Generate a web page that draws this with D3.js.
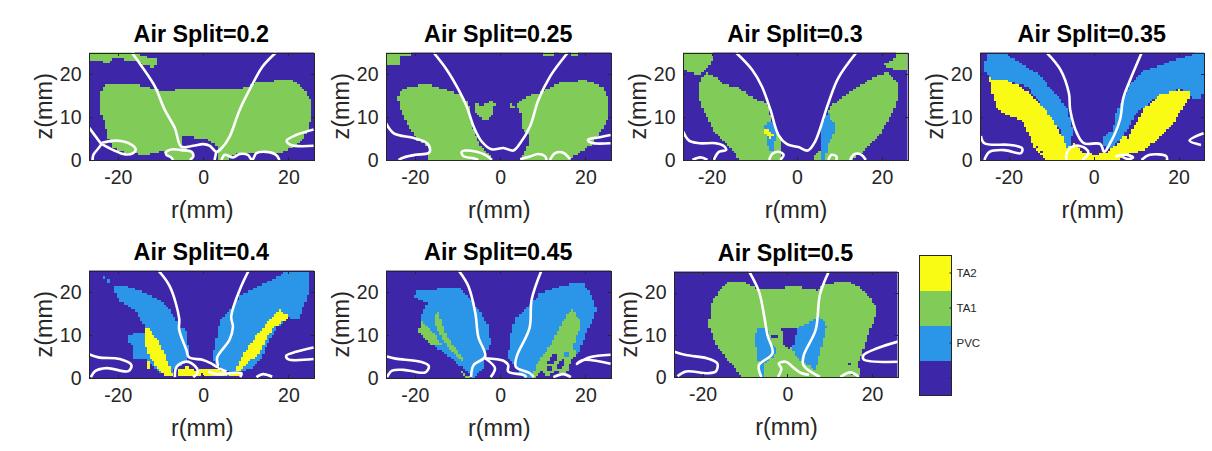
<!DOCTYPE html>
<html><head><meta charset="utf-8">
<script src="https://cdn.jsdelivr.net/npm/d3@7"></script>
<style>html,body{margin:0;background:#fff}svg{display:block}text{font-family:"Liberation Sans",Arial,sans-serif}</style>
</head><body><svg id="c" width="1212" height="451"></svg>
<script>
// ---------- categories and axis ticks ----------
const categories = ["", "PVC", "TA1", "TA2"];
const categoryColors = ["#3e26a8", "#2b95e8", "#81cc59", "#f9fb15"];
const rTicks = [-20, 0, 20];
const zTicks = [0, 10, 20];
const airSplits = [0.2, 0.25, 0.3, 0.35, 0.4, 0.45, 0.5];

// ---------- regions: [category index, outline as [r mm, z mm]] ----------
const regions20 = [
 [2,[[-24.3,13.2],[-24.1,15.2],[-23.4,17.1],[-22.2,17.7],[-15.6,17.5],[-12.5,16.7],[-10.1,16.2],[-7,16.2],[0,16.5],[3.9,16.5],[9.3,16.7],[12.5,17.9],[17.1,18.5],[21,18.5],[23.4,16.7],[25.3,14],[25.3,10.1],[24.9,7],[22.6,3.9],[18.7,1.9],[17.1,1.6],[12.5,1.6],[9.3,1.6],[7,1.2],[6.2,0],[3.1,0],[3.5,1.9],[3.1,3.5],[.8,4.8],[-2.3,5.3],[-5.1,5.3],[-5.1,3.5],[-2.7,1.9],[-2.7,0],[-7,0],[-9.3,2.2],[-13.2,1.2],[-17.9,1.6],[-21,2.7],[-22.2,5.1],[-23,8.5],[-24.1,11.3]]],
 [2,[[-26.9,25.2],[-16.4,25.2],[-14.8,24.5],[-10.9,23.3],[-10.7,22.5],[-11.7,21.5],[-13.6,22.1],[-16.4,23.2],[-21.4,23.6],[-21.8,22.4],[-23,22.8],[-26.9,23]]]
];
const contours20 = [
 [[-16.7,25],[-14.4,21.8],[-11.3,17.1],[-9,11.7],[-6.6,7.4],[-5.1,3.1],[-2.3,3.3],[0,3.7],[1.6,3.3],[3.1,1.9],[4.3,2.7],[6.2,5.4],[8.6,11.7],[11.3,17.1],[14,21.8],[17.1,25]],
 [[3.1,1.9],[2.7,0]],
 [[-3.1,0],[-2.3,.8],[-2.7,1.9],[-5.1,2.3],[-7,2.5],[-8.6,1.9],[-8.6,1.2],[-7.6,.7],[-7,0]],
 [[4.3,0],[5.1,1.2],[7,.6],[8.6,1.4],[10.5,1.2],[11.5,0],[12.5,1.6],[14.8,1.9],[17.1,1.2],[17.9,0]],
 [[-27,7.9],[-24.3,4.3],[-23.9,3.7],[-25.7,1.2],[-25.9,0]],
 [[-23.7,4],[-20.2,4.5],[-17,3.7],[-15.8,2.5],[-16.4,1.6],[-18.3,1.3],[-21,2.3],[-23.7,3.7]],
 [[25.9,7.1],[21.8,5.8],[19.6,4.5],[20.6,3.5],[25.9,3.3]]
];

const regions25 = [
 [2,[[-24,14.4],[-23.4,15.9],[-21,17.2],[-16.4,17.5],[-12.9,16.3],[-9.3,15.2],[-7.4,13.2],[-7,9.3],[-5.5,4.7],[-3.1,1.6],[-1.6,0],[-17.1,0],[-16.4,2.7],[-19.5,4.7],[-21.8,8.5],[-23.4,11.7]]],
 [2,[[4.7,0],[6.2,2.7],[7,5.1],[4.8,7.8],[5.1,10.1],[3.9,12.6],[2.3,13],[2.5,12.2],[3.4,12.4],[6.2,14.8],[9.3,15.7],[14.8,18.3],[20.2,18.5],[24.1,17.1],[25.5,14],[25.5,10.1],[23.4,6.2],[21.4,3.5],[18.3,1.6],[16.4,0]]],
 [2,[[-6.1,13.2],[-3.9,12.8],[-2.5,13.6],[-1.2,13.4],[-1.4,11.7],[-1.9,10.1],[-3.5,9.3],[-5.5,10.5],[-6.1,12]]],
 [2,[[-26.9,25.2],[-21,25.2],[-21,24.2],[-23.4,24.1],[-23.8,22.1],[-26.9,22.1]]],
 [2,[[10.1,25.2],[12.9,25.2],[12.9,24.2],[10.1,24.1]]],
 [2,[[14,25.2],[15.6,25.2],[15.6,24.5],[14,24.5]]],
 [2,[[16.7,25.2],[18.5,25.2],[18.3,24.3],[16.7,24.3]]]
];
const contours25 = [
 [[-15.6,25],[-12.5,21],[-9.7,16.3],[-7.8,12.4],[-6.2,7.8],[-4.3,4.3],[-2,2.5],[.8,2.8],[3.1,2.2],[4.7,3.9],[7,7.8],[9,14],[11.7,19.4],[15.9,25]],
 [[-26.7,8.5],[-24.9,6.2],[-20.2,5.1],[-17.1,3.9],[-16.4,2.3],[-16.8,1.6],[-19.9,1.2],[-22.6,.6],[-23.8,0]],
 [[-1.9,0],[-3.5,1.2],[-5.5,1.9],[-8.2,2.2],[-9,1.9],[-8.6,.9],[-6.2,.4],[-5.1,0]],
 [[4.7,.2],[7,.8],[8.9,1.4],[10.5,.9],[10.9,0]],
 [[11.7,0],[12.9,1.6],[14.8,1.7],[16.4,.2]],
 [[25.9,5.8],[23.4,5.3],[20.6,4.7],[21.4,4],[25.9,3.9]]
];

const regions30 = [
 [2,[[-23.2,15.5],[-22.6,18.6],[-21.4,20.2],[-19.1,19.4],[-17.5,17.9],[-13.6,16.7],[-10.1,14.4],[-7,13.2],[-5.8,9.3],[-3.9,4.7],[-3.9,0],[-13.2,0],[-15.6,2.7],[-19.1,6.2],[-22,11.7]]],
 [2,[[-26.9,25.2],[-19.9,25.2],[-19.9,23],[-21.4,21],[-22.6,19.8],[-24.9,20.2],[-26.9,21]]],
 [2,[[3.5,0],[5.8,2.7],[5.8,7.8],[7.8,12.4],[10.5,14.4],[15.2,17.5],[19.1,19.8],[21.4,20.2],[23.6,18.3],[23.6,14],[22.2,10.5],[19.1,5.4],[15.2,1.9],[12.9,0]]],
 [2,[[20.2,22.1],[23,23.7],[23,25.2],[26.2,25.2],[26.2,21],[23,21]]],
 [1,[[-7.8,7.4],[-7,8.9],[-5.5,8.9],[-4.8,6.2],[-5.5,1.9],[-6.6,2.3],[-7,4.7]]],
 [1,[[5.8,7.8],[7.4,11.7],[7.8,9.3],[9,8.5],[8.6,5.8],[7.4,3.5],[6.6,0],[5.7,0],[5.8,3.1]]],
 [3,[[-7.8,7.1],[-7,7.4],[-5.5,5.8],[-6.2,5.2],[-7.8,6.2]]]
];
const contours30 = [
 [[-14.3,25],[-10.5,21],[-8.2,17.1],[-6.2,11.7],[-4.3,5.8],[-2.3,3.7],[.4,3],[2.6,2.2],[4.3,4.3],[7.4,13.2],[9.7,19],[14,25]],
 [[-26.7,6.6],[-25.3,4.5],[-22.9,3.9],[-19.1,3.9],[-17.2,3.3],[-16.6,2.3],[-18.3,1.9],[-19.5,0]],
 [[-24.5,0],[-22.6,.6],[-21,0]],
 [[-6.5,0],[-5.8,1.4],[-4.3,1.9],[-3.1,1.2],[-3.9,0]],
 [[7.4,0],[8.2,1.2],[9.3,.8],[9.3,0]],
 [[12.5,0],[13.6,1.4],[15.2,1.2],[16.2,0]]
];

const regions35 = [
 [1,[[-25.3,24.6],[-20.6,24.6],[-17.1,22.5],[-12.9,19.8],[-9,15.5],[-6.2,12],[-4.8,6.6],[-5.8,2.7],[-6.4,2.7],[-7.8,7],[-15.6,17.1],[-21,18.6],[-24.5,18.8],[-25.7,21]]],
 [1,[[23.4,24.6],[18.1,22.9],[11.7,20.6],[8.6,17.5],[7,14],[5.5,11.7],[4.5,7],[2.2,5.4],[2.2,4.3],[3.1,2.3],[5.5,3.7],[7,5.4],[10.1,10.9],[15.6,15.2],[20.6,16.5],[22.6,14.6],[25.3,14.4],[26.2,16.7],[26.2,25.2],[24,25.2]]],
 [3,[[-24.5,19],[-21,18.8],[-17.1,17.1],[-13.2,13.6],[-10.1,10.1],[-7.2,5.1],[-6.2,2.7],[-4.3,3.9],[-2.7,1.9],[0,1.2],[3.1,1.6],[5.8,3.9],[7,5.4],[8.2,5.1],[11.7,11.7],[15.6,15.2],[20.2,16.3],[22.4,15.9],[22.6,14.4],[18.7,8.5],[14.8,4.7],[12.1,2.3],[7.8,1.2],[5.5,0],[-11.3,0],[-14,3.1],[-16.7,8.9],[-21,10.9],[-23,12],[-23.4,14.4],[-24.1,16.3]]],
 [0,[[-13.6,3.2],[-13,3.2],[-13,2.5],[-13.6,2.5]]],
 [0,[[-12.4,2.2],[-11.8,2.2],[-11.8,1.6],[-12.4,1.6]]]
];
const contours35 = [
 [[-11,24.9],[-7.8,21],[-5.8,15.5],[-5.5,11.7],[-3.9,6.2],[-2.3,3.9],[1.6,3.7],[2.5,1.9],[3.9,3.9],[6.2,9.3],[7,14.4],[8.6,18.6],[11.3,24.9]],
 [[-26.5,5.6],[-25.7,3.9],[-19.5,3.5],[-16.8,2.7],[-17.1,1.6],[-21,2.3],[-24.5,1.9],[-25.7,0]],
 [[-6.4,0],[-6.2,1.9],[-4.3,3.3],[-1.9,2.7],[-1.2,1.6],[-2.7,0]],
 [[5.1,.8],[7,1.2],[7.8,1.2],[9.3,.6],[8.2,.2],[7,.6]],
 [[11.3,0],[13.2,1.2],[17.1,.9],[17.3,0]],
 [[25.9,6.2],[22.6,4.5],[25.3,3.5]]
];

const regions40 = [
 [1,[[-20.8,20.1],[-20.6,21.7],[-17.9,21.3],[-14.4,20.1],[-10.5,18.3],[-7.8,15.9],[-5.6,12],[-3.9,11.2],[-3.3,6.1],[-4.3,3],[-6.6,2.3],[-7.8,.5],[-10.1,1.1],[-13.6,4.6],[-16.4,4.6],[-16.7,7.7],[-17.8,9.2],[-16.4,10.4],[-13.9,10.3],[-13.6,11.8],[-15.6,15.5],[-19.5,17.8]]],
 [1,[[-22.4,23],[-21.8,23],[-21.8,22],[-22.4,22]]],
 [1,[[-23.6,23.4],[-23.1,23.4],[-23.1,23],[-23.6,23]]],
 [1,[[2.2,4],[2.7,7.3],[3.9,13.5],[6.6,16.2],[8.6,19],[11.3,20.5],[15.6,22.5],[19.5,24.8],[24.9,24.8],[25.1,22.5],[24.5,18.6],[23.4,16.2],[22.6,13.5],[20.2,14.1],[17.1,11.6],[14.8,7.3],[14,5],[11.7,2.3],[7.4,1.2],[5.1,1.5],[3.1,3.3]]],
 [3,[[-13.6,11.6],[-12.5,11.2],[-9.7,7.3],[-7.4,1.5],[-7,.3],[-8.6,.3],[-10.1,1.5],[-12.9,5.4],[-13.9,8.8]]],
 [3,[[-13.1,3.8],[-12.5,3.8],[-12.5,2.2],[-13.1,2.2]]],
 [3,[[-6.2,.3],[-5.8,2.3],[-3.5,2.6],[-1.6,1.5],[0,2.3],[3.1,2.3],[5.5,1.1],[9,1.2],[9,.3]]],
 [3,[[7.4,1.5],[9.3,5.4],[13.6,11.2],[17.9,16.1],[20.2,14.1],[16.4,11.6],[14.8,9.2],[13.2,5.7],[10.9,3.8],[8.6,1.5]]],
 [0,[[-5,3.4],[-3.4,3.4],[-3.4,2.8],[-5,2.8]]],
 [0,[[-.6,1.3],[0,1.3],[0,.3],[-.6,.3]]],
 [1,[[5.6,1.1],[6.2,1.1],[6.2,.3],[5.6,.3]]]
];
const contours40 = [
 [[-10.5,25],[-7.8,21.3],[-5.6,13.9],[-5.6,11.2],[-3.9,6.5],[-3.3,4.8],[0,4.2],[1.9,3.4],[3.4,2.6],[3.3,4.8],[6.2,8.9],[7,11.9],[6.6,14.3],[8.6,20.5],[10.7,25]],
 [[-26.9,5.6],[-24.5,4.8],[-19.5,4.4],[-16.8,3],[-17.5,1.6],[-22.6,2.3],[-25.3,1.6],[-26.3,.2]],
 [[-6.6,.2],[-6.2,2.6],[-3.9,3.8],[-1.9,2.8],[-1.2,1.5],[-2.3,.2]],
 [[1.2,1.5],[3.1,.9],[9,1.1],[8.7,.2]],
 [[3.5,2.3],[5.5,1.5]],
 [[12.5,.2],[14,.9],[16.2,.3]],
 [[25.9,7.1],[21.8,6.1],[19.5,5.2],[19.9,4.4],[25.9,4.4]]
];

const regions45 = [
 [1,[[-20.1,19],[-19.7,20.5],[-16.4,20.1],[-13.6,21.1],[-9.3,20.9],[-6.6,17.8],[-4.7,15.5],[-2.7,12],[-2.2,8.1],[-3.5,5],[-3.5,3],[-6.2,.2],[-7.8,1.5],[-12.5,5.4],[-15.2,7.3],[-18.8,10],[-18.7,14.3],[-17.1,17.4]]],
 [1,[[1.9,5],[2.3,9.6],[3.5,13.9],[7,17],[9.3,19.7],[15.6,21.7],[19.5,22.1],[21.4,19],[22.6,15.9],[21.4,12.7],[20.2,10.4],[18.3,5.7],[16.4,5],[11.7,5],[8.2,2.3],[7.8,.2],[5.5,.2],[3.9,2.6],[2.2,4]]],
 [2,[[-19.1,11],[-18.3,13.1],[-16.4,11.6],[-13.6,7.7],[-15.6,7.5],[-18.3,9.6]]],
 [2,[[-15.6,14.5],[-14.4,15.5],[-12.9,10.4],[-8.6,4.2],[-9.3,4],[-13.6,8.9],[-15.2,12.7]]],
 [2,[[-10.1,2.3],[-7,.2],[-8.2,.2],[-10.9,3]]],
 [2,[[7.6,.2],[8.6,3.4],[11.7,7.3],[14.4,12.7],[16.7,16.1],[18.5,13.9],[18.7,11.6],[17.1,7.3],[17.9,5.4],[16.4,3.8],[15.6,1.1],[13.2,1.5],[10.9,.3],[9.7,1.5],[8.2,.2]]],
 [0,[[11.5,4.6],[12.9,5.6],[13.6,4.9],[12.7,3.6],[11.3,3.4]]],
 [0,[[13.4,3.4],[14.7,4.3],[15,3],[14.1,2.2],[13.2,2.5]]],
 [0,[[10.9,2.6],[12.1,2.6],[12.1,1.8],[10.9,1.8]]],
 [1,[[15.2,6],[16.2,6],[16.2,5.2],[15.2,5.2]]]
];
const contours45 = [
 [[-9.7,25],[-7.4,21.3],[-5.8,15.1],[-5.1,9.6],[-3.5,5],[-6.2,3],[-6.8,.2]],
 [[-3.5,4.6],[-1.2,2.3],[-2.2,.2]],
 [[-3.5,4.6],[.8,4],[1.9,3],[1.9,1.5],[5.5,.7],[6.2,.2]],
 [[9.7,25],[7.4,18.2],[6.9,11.6],[3.9,5],[3.7,2.6],[7,1.1],[7.9,.2]],
 [[-26.5,5],[-24.5,4.5],[-18.7,3.8],[-16.7,2.8],[-17.5,1.3],[-22.6,1.9],[-25.3,1.7],[-26.5,.2]],
 [[12.5,.2],[14.8,.9],[16.6,.2]],
 [[25.9,5.4],[21,4.8],[18,3.3],[19.5,4.2],[25.9,3.3]]
];

const regions50 = [
 [2,[[-18.4,12.7],[-18,17.5],[-15.7,21],[-13.7,22.6],[-10.6,22.6],[-7.1,21],[-2.4,21],[1.6,21.4],[7.1,20.6],[8.6,21.8],[12.9,22.6],[15.7,22.2],[18.4,19.9],[20.8,17.1],[20.8,14.3],[19.2,10.4],[17.6,5.6],[16.5,3.2],[17.3,.9],[16.5,0],[-10.6,0],[-13.3,3.2],[-16.5,7.2],[-18.4,11.8]]],
 [1,[[-7.1,11.8],[-4.9,11.8],[-3.8,8.4],[-2.6,6.8],[-3.1,4.8],[-5.5,3.1],[-5.6,0],[-6.3,0],[-6.9,4.8],[-7.6,8.8]]],
 [1,[[1.2,7.6],[2.5,11.6],[4.7,12.7],[7.7,14.2],[9.3,12.1],[8.1,7.2],[7.1,3.6],[6.7,1.5],[5.1,2.8],[2.7,4.4],[1.3,6]]],
 [0,[[-1.6,11.6],[2.5,11.8],[1.6,8],[.4,6.4],[-1.2,8.4],[-.9,10]]],
 [0,[[-3.5,10],[-2.2,10],[-2.2,9.2],[-3.5,9.2]]],
 [0,[[14.6,3.2],[15.2,3.2],[15.2,2.6],[14.6,2.6]]],
 [0,[[14.8,1],[15.4,1],[15.4,.4],[14.8,.4]]]
];
const contours50 = [
 [[-9,25],[-6.7,20.3],[-5.5,14.7],[-4.7,10],[-3.5,5.6],[-6.7,2.8],[-6.1,0]],
 [[9.8,25],[7.7,19.5],[6.7,11.2],[3.9,5.2],[3.8,2.8],[7.7,0]],
 [[-2.2,0],[-1.4,2],[-2,3.2],[-.4,3.6],[1.6,2.1],[3.1,1],[5.1,.5]],
 [[-26.7,6],[-23.9,5.2],[-18.8,4.4],[-16.5,3.2],[-16.9,1.3],[-18.8,.9],[-23.9,1.3],[-25.9,.2]],
 [[12.5,0],[14.9,1.1],[16.9,0]],
 [[26.1,8.4],[21.2,6.8],[18,5.2],[18,4.2],[26.1,3.6]]
];

const panelRegions = [regions20, regions25, regions30, regions35, regions40, regions45, regions50];
const panelContours = [contours20, contours25, contours30, contours35, contours40, contours45, contours50];

// ---------- layout (pixels) ----------
const boxes = [
 [88.5,52.5,225.5,107.5],[385.5,52.5,225.5,107.5],[682.5,52.5,225,107.5],[979.5,52.5,224.5,107.5],
 [88.5,270.5,225.5,107.5],[385.5,270.5,225.5,107.5],[673.5,271.5,224,105.5]];
const axisInk = "#262626";
const cellStep = 0.55;
const rDomain = [-26.85, 26], zDomain = [0, 25];

const svg = d3.select("#c");
const defs = svg.append("defs");

airSplits.forEach((split, i) => {
  const [bx, by, bw, bh] = boxes[i];
  const x = d3.scaleLinear().domain(rDomain).range([bx, bx + bw]);
  const y = d3.scaleLinear().domain(zDomain).range([by + bh, by]);
  const g = svg.append("g");
  defs.append("clipPath").attr("id", "clip" + i).append("rect").attr("x", bx).attr("y", by).attr("width", bw).attr("height", bh);

  // rasterise region outlines onto the measurement grid
  const rows = d3.range(Math.ceil(zDomain[1] / cellStep));
  const cols = d3.range(Math.ceil((rDomain[1] - rDomain[0]) / cellStep));
  const runs = [];
  rows.forEach(ri => {
    const zc = (ri + .5) * cellStep;
    let start = 0, cur = null;
    cols.forEach(ci => {
      const rc = rDomain[0] + (ci + .5) * cellStep;
      let v = 0;
      panelRegions[i].forEach(([cat, poly]) => { if (d3.polygonContains(poly, [rc, zc])) v = cat; });
      if (cur === null) { cur = v; start = ci; }
      else if (v !== cur) { runs.push({ ri, start, end: ci, v: cur }); cur = v; start = ci; }
    });
    runs.push({ ri, start, end: cols.length, v: cur });
  });
  const plot = g.append("g").attr("clip-path", `url(#clip${i})`);
  plot.selectAll("rect").data(runs).join("rect")
    .attr("x", d => x(rDomain[0] + d.start * cellStep))
    .attr("width", d => x(rDomain[0] + d.end * cellStep) - x(rDomain[0] + d.start * cellStep))
    .attr("y", d => y((d.ri + 1) * cellStep))
    .attr("height", d => y(d.ri * cellStep) - y((d.ri + 1) * cellStep))
    .attr("fill", d => categoryColors[d.v])
    .attr("shape-rendering", "crispEdges");

  const line = d3.line().x(d => x(d[0])).y(d => y(d[1])).curve(d3.curveCatmullRom.alpha(.5));
  plot.selectAll("path").data(panelContours[i]).join("path")
    .attr("d", line).attr("fill", "none").attr("stroke", "#fff").attr("stroke-width", 2.6).attr("stroke-linejoin", "round");

  // axes on all four sides, inward ticks
  const fmt = d => String(d);
  const bottom = g.append("g").attr("transform", `translate(0,${by + bh})`)
    .call(d3.axisBottom(x).tickValues(rTicks).tickSize(-3).tickSizeOuter(0).tickPadding(10).tickFormat(fmt));
  const left = g.append("g").attr("transform", `translate(${bx},0)`)
    .call(d3.axisLeft(y).tickValues(zTicks).tickSize(-3).tickSizeOuter(0).tickPadding(7).tickFormat(fmt));
  const top = g.append("g").attr("transform", `translate(0,${by})`)
    .call(d3.axisTop(x).tickValues(rTicks).tickSize(-3).tickSizeOuter(0).tickFormat(""));
  const right = g.append("g").attr("transform", `translate(${bx + bw},0)`)
    .call(d3.axisRight(y).tickValues(zTicks).tickSize(-3).tickSizeOuter(0).tickFormat(""));
  [bottom, left, top, right].forEach(a => {
    a.selectAll("path,line").attr("stroke", axisInk).attr("stroke-width", 1).attr("shape-rendering", "crispEdges");
    a.selectAll("text").attr("fill", axisInk).style("font-size", "19.5px").style("font-family", '"Liberation Sans",Arial,sans-serif');
  });
  bottom.selectAll("text").attr("dy", "0.71em");

  g.append("text").attr("x", bx + bw / 2).attr("y", by - 11).attr("text-anchor", "middle")
    .attr("font-weight", "bold").attr("font-size", 23.3).attr("fill", "#000").text("Air Split=" + split);
  g.append("text").attr("x", bx + bw / 2 + 1).attr("y", by + bh + 58).attr("text-anchor", "middle")
    .attr("font-size", 23.5).attr("fill", axisInk).text("r(mm)");
  g.append("text").attr("transform", `translate(${bx - 37},${by + bh / 2}) rotate(-90)`).attr("text-anchor", "middle")
    .attr("font-size", 23.5).attr("fill", axisInk).text("z(mm)");
});

// ---------- colour bar ----------
const barX = 919.5, barW = 32, barTop = 255.5, barH = 140;
const bandY = d3.scaleBand().domain(categories.map((c, i) => i).reverse()).range([barTop, barTop + barH]);
const bar = svg.append("g");
bar.selectAll("rect").data(categories).join("rect")
  .attr("x", barX).attr("width", barW)
  .attr("y", (c, i) => bandY(i)).attr("height", bandY.bandwidth())
  .attr("fill", (c, i) => categoryColors[i]).attr("shape-rendering", "crispEdges");
bar.append("rect").attr("x", barX).attr("y", barTop).attr("width", barW).attr("height", barH)
  .attr("fill", "none").attr("stroke", axisInk).attr("shape-rendering", "crispEdges");
const barAxis = bar.append("g").attr("transform", `translate(${barX + barW},0)`)
  .call(d3.axisRight(bandY).tickSize(-2).tickSizeOuter(0).tickPadding(5).tickFormat(i => categories[i]));
barAxis.select("path").remove();
barAxis.selectAll("line").attr("stroke", axisInk);
barAxis.selectAll("text").attr("fill", axisInk).style("font-size", "11.5px").style("font-family", '"Liberation Sans",Arial,sans-serif');
</script></body></html>
